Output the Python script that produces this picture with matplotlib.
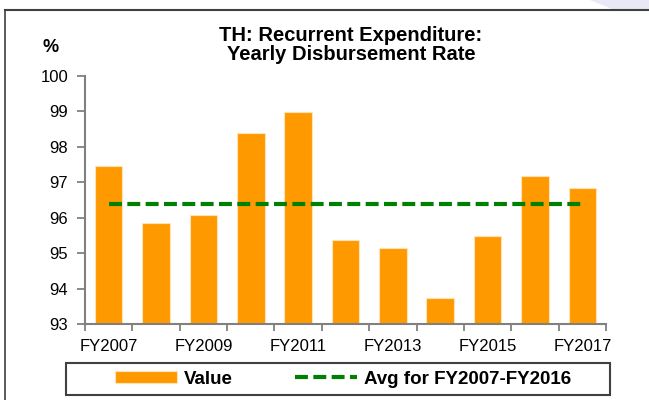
import numpy as np
import matplotlib.pyplot as plt
from matplotlib.patches import Rectangle, Polygon

plt.rcParams['font.family'] = ['Liberation Sans', 'DejaVu Sans']

## Data ########################
years = ['FY2007', 'FY2008', 'FY2009', 'FY2010', 'FY2011', 'FY2012',
         'FY2013', 'FY2014', 'FY2015', 'FY2016', 'FY2017']
values = [97.46, 95.86, 96.07, 98.38, 98.99, 95.36, 95.14, 93.74, 95.47, 97.18, 96.84]
avg_value = 96.37

## Figure ########################
fig = plt.figure(figsize=(6.49, 4.00), dpi=100)
ax = fig.add_axes([85/649, 1 - 324/400, (606 - 85)/649, (324 - 75.7)/400])

x = np.arange(len(years))
orange = '#FF9900'
green = '#008000'

bars = ax.bar(x, values, width=0.58, bottom=0, color=orange, edgecolor='#FFE3B8',
              linewidth=0.8, label='Value', zorder=2)
line, = ax.plot(x, [avg_value] * len(years), color=green, lw=3, dashes=(3.1, 1.3),
                label='Avg for FY2007-FY2016', zorder=3)

ax.set_ylim(93, 100)
ax.set_xlim(-0.5, len(years) - 0.5)
ax.set_yticks(np.arange(93, 101, 1))

# labels on every other category, tick marks at the category edges
ax.set_xticks(x)
ax.set_xticklabels([y if i % 2 == 0 else '' for i, y in enumerate(years)])
ax.set_xticks(np.arange(-0.5, len(years)), minor=True)
ax.tick_params(axis='x', which='major', length=0, pad=11, labelsize=12)
ax.tick_params(axis='x', which='minor', length=5, width=1.3, color='#808080', direction='out')
ax.tick_params(axis='y', length=6, width=1.3, color='#808080', pad=6, labelsize=12)

for s in ['top', 'right']:
    ax.spines[s].set_visible(False)
for s in ['left', 'bottom']:
    ax.spines[s].set_color('#808080')
    ax.spines[s].set_linewidth(1.5)

## Texts ########################
fig.text(351/649, 1 - 45/400, 'TH: Recurrent Expenditure:\nYearly Disbursement Rate',
         ha='center', va='center', fontsize=14.5, fontweight='bold', linespacing=1.05)
fig.text(51/649, 1 - 47/400, '%', ha='center', va='center', fontsize=13, fontweight='bold')

## Legend ########################
fig.patches.append(Rectangle((66/649, 1 - 395/400), (610 - 66)/649, 32/400,
                             transform=fig.transFigure, fill=False,
                             edgecolor='#404040', linewidth=1.5))
leg = fig.legend([bars, line], ['Value', 'Avg for FY2007-FY2016'],
                 loc='center', bbox_to_anchor=(343/649, 1 - 379/400), ncol=2,
                 frameon=False, handlelength=3.3, handleheight=0.55, handletextpad=0.4,
                 columnspacing=3.3, prop={'weight': 'bold', 'size': 13.5})

## Outer frame ########################
fig.patches.append(Polygon([(590/649, 1), (1, 1), (1, 1 - 9/400), (612/649, 1 - 9/400)],
                           closed=True, transform=fig.transFigure,
                           facecolor='#E9E9F5', edgecolor='none'))
fig.add_artist(plt.Line2D([5/649, 5/649], [0, 1 - 9.5/400], color='#404040', lw=1.2,
                          transform=fig.transFigure))
fig.add_artist(plt.Line2D([5/649, 1], [1 - 9.5/400, 1 - 9.5/400], color='#404040', lw=1.5,
                          transform=fig.transFigure))

fig.savefig('out.png', dpi=100)
